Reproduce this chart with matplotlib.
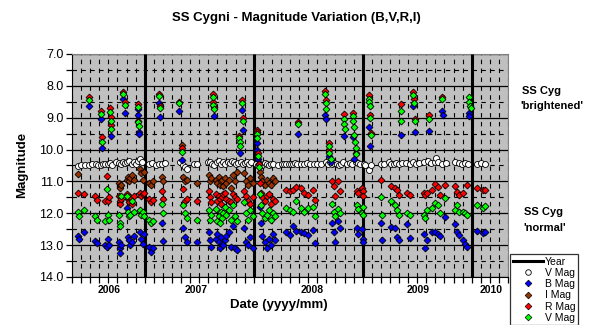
import matplotlib
matplotlib.use("Agg")
import matplotlib.pyplot as plt
from matplotlib.ticker import MultipleLocator, FixedLocator, FormatStrFormatter
from matplotlib.lines import Line2D
import numpy as np

plt.rcParams['font.family'] = ['Liberation Sans', 'DejaVu Sans']

# ---------------- data (decimal year, magnitude) ----------------
b_mag = [
    (2006.390,12.72),(2006.400,12.82),(2006.440,12.60),(2006.486,8.62),(2006.545,12.88),(2006.560,12.92),
    (2006.600,9.05),(2006.610,9.95),(2006.640,13.00),(2006.655,13.05),(2006.665,12.82),(2006.675,13.00),
    (2006.695,9.56),(2006.760,12.90),(2006.770,13.10),(2006.775,13.25),(2006.780,13.00),(2006.805,8.42),
    (2006.815,8.85),(2006.840,11.82),(2006.850,12.75),(2006.860,12.85),(2006.870,13.00),(2006.880,12.90),
    (2006.900,12.70),(2006.935,8.72),(2006.940,8.90),(2006.945,9.45),(2006.950,9.52),(2006.960,12.60),
    (2006.970,12.80),(2006.985,12.95),(2006.995,12.65),
    (2007.040,13.05),(2007.060,13.20),(2007.080,13.10),(2007.128,8.55),(2007.138,8.97),(2007.160,12.30),
    (2007.165,12.88),(2007.317,8.80),(2007.347,10.33),(2007.350,12.45),(2007.370,12.75),(2007.390,12.90),
    (2007.480,12.90),(2007.590,12.60),(2007.600,12.85),(2007.610,13.05),(2007.635,8.95),(2007.650,12.80),
    (2007.660,12.65),(2007.680,12.90),(2007.690,13.10),(2007.700,12.75),(2007.710,12.95),(2007.720,13.00),
    (2007.735,12.85),(2007.750,12.70),(2007.770,12.60),(2007.790,13.05),(2007.810,12.40),(2007.830,13.10),
    (2007.850,13.15),(2007.876,10.10),(2007.893,8.75),(2007.900,9.37),(2007.910,12.45),(2007.930,12.90),
    (2007.950,13.00),(2007.970,12.75),(2007.990,13.10),
    (2008.030,9.80),(2008.035,10.00),(2008.040,10.30),(2008.055,11.80),(2008.065,12.30),(2008.080,12.70),
    (2008.100,12.90),(2008.120,13.10),(2008.140,12.80),(2008.160,13.00),(2008.180,12.65),(2008.200,12.85),
    (2008.300,12.58),(2008.335,12.68),(2008.365,12.40),(2008.385,12.55),(2008.410,9.50),(2008.430,12.60),
    (2008.465,12.63),(2008.500,12.68),(2008.540,12.53),(2008.560,12.93),(2008.655,8.92),(2008.660,9.05),
    (2008.695,10.20),(2008.705,10.40),(2008.720,12.30),(2008.735,12.60),(2008.750,12.90),(2008.770,12.25),
    (2008.790,12.45),(2008.825,9.58),(2008.910,9.60),(2008.925,10.30),(2008.950,12.45),(2008.960,12.65),
    (2008.990,12.50),
    (2009.000,12.80),(2009.005,12.90),(2009.055,9.30),(2009.070,9.90),(2009.170,12.30),(2009.175,12.85),
    (2009.263,12.42),(2009.294,12.45),(2009.315,12.73),(2009.330,12.84),(2009.350,9.55),(2009.405,12.35),
    (2009.435,12.79),(2009.465,8.63),(2009.480,9.45),(2009.560,12.65),(2009.575,13.10),(2009.590,12.85),
    (2009.605,9.42),(2009.640,12.58),(2009.665,12.60),(2009.690,12.65),(2009.710,12.70),(2009.730,8.80),
    (2009.735,8.92),(2009.756,12.13),(2009.850,12.33),(2009.865,12.58),(2009.880,12.68),(2009.925,12.84),
    (2009.940,12.95),(2009.960,13.05),(2009.975,8.85),(2009.980,8.95),(2010.050,12.55),(2010.105,12.62),
    (2010.120,12.60),
]

v_mag = [
    (2006.390,11.95),(2006.400,12.10),(2006.440,11.90),(2006.486,8.45),(2006.545,12.08),(2006.560,12.20),
    (2006.600,8.88),(2006.610,9.75),(2006.640,12.25),(2006.655,11.25),(2006.665,12.05),(2006.675,12.20),
    (2006.685,8.82),(2006.690,9.09),(2006.695,9.35),(2006.760,12.05),(2006.770,12.30),(2006.775,12.40),
    (2006.780,11.45),(2006.805,8.24),(2006.815,8.60),(2006.840,11.45),(2006.850,11.95),(2006.860,12.10),
    (2006.870,12.05),(2006.880,11.60),(2006.900,11.95),(2006.935,8.65),(2006.940,9.15),(2006.945,9.25),
    (2006.960,11.90),(2006.970,12.05),(2006.985,11.95),(2006.995,12.10),
    (2007.040,12.20),(2007.060,12.30),(2007.080,12.25),(2007.128,8.33),(2007.138,8.70),(2007.160,11.70),
    (2007.165,12.00),(2007.317,8.55),(2007.347,10.08),(2007.350,11.75),(2007.370,12.00),(2007.390,12.15),
    (2007.480,12.20),(2007.590,11.90),(2007.600,12.20),(2007.610,12.05),(2007.625,8.35),(2007.630,8.60),
    (2007.635,8.72),(2007.650,11.85),(2007.660,12.25),(2007.680,12.10),(2007.690,12.30),(2007.700,11.95),
    (2007.710,12.15),(2007.720,12.00),(2007.735,11.80),(2007.750,12.05),(2007.770,11.90),(2007.790,12.20),
    (2007.810,11.75),(2007.830,12.10),(2007.850,12.25),(2007.868,9.65),(2007.872,9.75),(2007.876,9.90),
    (2007.893,8.53),(2007.900,9.10),(2007.910,11.65),(2007.930,12.00),(2007.950,12.20),(2007.970,11.90),
    (2007.990,12.10),
    (2008.030,9.50),(2008.035,9.65),(2008.040,10.20),(2008.050,10.55),(2008.055,11.40),(2008.065,11.75),
    (2008.080,12.00),(2008.100,12.15),(2008.120,12.05),(2008.140,11.90),(2008.160,12.20),(2008.180,12.00),
    (2008.200,12.10),(2008.300,11.84),(2008.335,11.90),(2008.365,11.95),(2008.385,11.63),(2008.410,9.21),
    (2008.430,11.84),(2008.465,11.95),(2008.500,11.84),(2008.540,11.79),(2008.560,12.10),(2008.655,8.24),
    (2008.660,8.55),(2008.665,8.74),(2008.690,9.90),(2008.695,10.10),(2008.705,10.30),(2008.720,11.70),
    (2008.735,11.95),(2008.750,12.10),(2008.770,11.85),(2008.790,12.00),(2008.825,9.05),(2008.830,9.20),
    (2008.835,9.35),(2008.910,8.95),(2008.915,9.10),(2008.920,9.30),(2008.925,9.55),(2008.930,9.75),
    (2008.935,9.95),(2008.940,10.15),(2008.950,11.75),(2008.960,11.85),(2008.990,12.00),
    (2009.000,11.80),(2009.005,12.05),(2009.055,8.40),(2009.060,8.50),(2009.065,8.62),(2009.070,9.00),
    (2009.075,9.55),(2009.170,11.50),(2009.175,12.05),(2009.263,11.63),(2009.294,11.74),(2009.315,11.89),
    (2009.330,12.05),(2009.350,8.79),(2009.355,9.11),(2009.405,12.00),(2009.435,12.05),(2009.465,8.28),
    (2009.470,8.55),(2009.480,9.10),(2009.560,12.05),(2009.575,12.15),(2009.590,11.90),(2009.605,9.05),
    (2009.640,11.84),(2009.665,11.68),(2009.690,11.74),(2009.710,12.00),(2009.730,8.40),(2009.756,11.53),
    (2009.850,11.89),(2009.865,11.74),(2009.880,11.95),(2009.925,11.95),(2009.940,12.00),(2009.960,12.05),
    (2009.975,8.35),(2009.980,8.50),(2009.985,8.62),(2009.990,8.70),(2010.050,11.74),(2010.105,11.84),
    (2010.120,11.78),
]

r_mag = [
    (2006.390,11.36),(2006.440,11.38),(2006.486,8.36),(2006.545,11.45),(2006.560,11.58),(2006.600,8.80),
    (2006.610,9.60),(2006.640,11.62),(2006.655,10.82),(2006.665,11.60),(2006.675,11.50),(2006.685,8.71),
    (2006.690,8.98),(2006.695,9.24),(2006.760,11.45),(2006.770,11.60),(2006.775,11.70),(2006.780,11.55),
    (2006.805,8.19),(2006.815,8.50),(2006.840,11.40),(2006.850,11.55),(2006.860,11.65),(2006.870,11.50),
    (2006.880,11.70),(2006.900,11.45),(2006.935,8.57),(2006.940,9.10),(2006.960,11.35),(2006.970,11.45),
    (2006.985,11.40),(2006.995,11.35),
    (2007.040,11.55),(2007.060,11.65),(2007.080,11.58),(2007.128,8.27),(2007.138,8.62),(2007.160,11.30),
    (2007.165,11.55),(2007.317,8.50),(2007.347,9.95),(2007.350,11.25),(2007.370,11.60),(2007.390,11.55),
    (2007.480,11.60),(2007.590,11.30),(2007.600,11.50),(2007.610,11.65),(2007.625,8.27),(2007.630,8.50),
    (2007.635,8.65),(2007.650,11.40),(2007.660,11.60),(2007.680,11.45),(2007.690,11.55),(2007.700,11.70),
    (2007.710,11.50),(2007.720,11.40),(2007.735,11.35),(2007.750,11.55),(2007.770,11.60),(2007.790,11.65),
    (2007.810,11.40),(2007.830,11.50),(2007.850,11.55),(2007.868,9.57),(2007.893,8.45),(2007.900,9.00),
    (2007.910,11.30),(2007.930,11.45),(2007.950,11.60),(2007.970,11.70),(2007.990,11.50),
    (2008.030,9.38),(2008.035,9.45),(2008.040,10.10),(2008.050,10.45),(2008.055,11.05),(2008.065,11.35),
    (2008.080,11.50),(2008.100,11.60),(2008.120,11.45),(2008.140,11.40),(2008.160,11.70),(2008.180,11.55),
    (2008.200,11.60),(2008.300,11.26),(2008.335,11.30),(2008.365,11.26),(2008.385,11.16),(2008.410,9.14),
    (2008.430,11.21),(2008.465,11.37),(2008.500,11.42),(2008.540,11.26),(2008.560,11.58),(2008.655,8.16),
    (2008.660,8.45),(2008.690,9.79),(2008.695,10.00),(2008.720,11.00),(2008.735,11.15),(2008.750,11.45),
    (2008.770,11.00),(2008.790,11.30),(2008.825,8.87),(2008.910,8.84),(2008.935,10.10),(2008.950,11.30),
    (2008.960,11.35),(2008.990,11.20),
    (2009.000,11.30),(2009.005,11.45),(2009.055,8.28),(2009.070,8.93),(2009.075,9.47),(2009.170,10.95),
    (2009.263,11.14),(2009.294,11.21),(2009.315,11.26),(2009.330,11.42),(2009.350,8.56),(2009.405,11.35),
    (2009.435,11.42),(2009.465,8.19),(2009.470,8.42),(2009.480,9.03),(2009.560,11.37),(2009.575,11.42),
    (2009.590,11.37),(2009.605,8.93),(2009.640,11.26),(2009.665,11.07),(2009.690,11.16),(2009.710,11.42),
    (2009.730,8.34),(2009.756,11.10),(2009.850,11.14),(2009.865,11.32),(2009.880,11.42),(2009.925,11.37),
    (2009.960,11.10),(2010.050,11.21),(2010.105,11.26),(2010.120,11.26),
]

i_mag = [
    (2006.390,10.76),(2006.760,11.05),(2006.770,11.15),(2006.775,11.20),(2006.780,11.10),(2006.840,10.95),
    (2006.850,10.85),(2006.860,11.00),(2006.870,10.90),(2006.880,10.80),(2006.900,10.95),(2006.960,10.60),
    (2006.970,10.75),(2006.985,10.95),(2006.995,10.70),(2007.040,11.05),(2007.060,11.10),(2007.080,11.00),
    (2007.160,10.85),(2007.165,11.00),(2007.347,9.85),(2007.350,10.85),(2007.370,11.00),(2007.390,10.95),
    (2007.480,11.05),(2007.590,10.80),(2007.600,11.00),(2007.610,10.90),(2007.650,10.95),(2007.660,11.05),
    (2007.680,10.85),(2007.690,11.10),(2007.700,11.00),(2007.710,10.95),(2007.720,11.15),(2007.735,10.90),
    (2007.750,11.05),(2007.770,10.95),(2007.790,11.20),(2007.810,10.80),(2007.830,11.00),(2007.850,10.70),
    (2007.910,10.75),(2007.930,11.00),(2007.950,11.10),(2007.970,10.90),(2007.990,11.05),(2008.045,10.45),
    (2008.055,10.70),(2008.065,10.85),(2008.080,11.00),(2008.100,11.10),(2008.120,10.95),(2008.140,11.05),
    (2008.160,11.10),(2008.180,10.90),(2008.200,11.00),
]

comp_v_mag = [
    (2006.39,10.52),(2006.42,10.50),(2006.45,10.48),(2006.49,10.47),(2006.52,10.45),(2006.55,10.44),
    (2006.57,10.50),(2006.60,10.48),(2006.62,10.44),(2006.64,10.46),(2006.66,10.45),(2006.68,10.42),
    (2006.70,10.47),(2006.74,10.40),(2006.76,10.42),(2006.78,10.45),(2006.80,10.38),(2006.82,10.42),
    (2006.84,10.38),(2006.86,10.35),(2006.88,10.45),(2006.90,10.40),(2006.92,10.45),(2006.94,10.35),
    (2006.96,10.30),(2006.98,10.38),(2007.04,10.44),(2007.07,10.42),(2007.10,10.47),(2007.13,10.45),
    (2007.16,10.45),(2007.19,10.42),(2007.32,10.40),(2007.35,10.50),(2007.37,10.55),(2007.39,10.60),
    (2007.45,10.45),(2007.48,10.45),(2007.58,10.40),(2007.60,10.38),(2007.62,10.45),(2007.64,10.50),
    (2007.66,10.40),(2007.68,10.36),(2007.70,10.44),(2007.72,10.40),(2007.74,10.45),(2007.76,10.38),
    (2007.78,10.42),(2007.80,10.35),(2007.82,10.40),(2007.84,10.45),(2007.86,10.42),(2007.88,10.38),
    (2007.90,10.45),(2007.92,10.42),(2007.94,10.40),(2007.96,10.45),(2007.98,10.38),(2008.02,10.45),
    (2008.04,10.50),(2008.06,10.45),(2008.08,10.48),(2008.10,10.42),(2008.12,10.45),(2008.14,10.50),
    (2008.16,10.46),(2008.18,10.45),(2008.22,10.48),(2008.26,10.45),(2008.28,10.46),(2008.30,10.45),
    (2008.32,10.46),(2008.34,10.44),(2008.36,10.45),(2008.38,10.42),(2008.40,10.45),(2008.43,10.44),
    (2008.46,10.45),(2008.49,10.43),(2008.52,10.45),(2008.55,10.46),(2008.58,10.45),(2008.62,10.45),
    (2008.66,10.38),(2008.68,10.45),(2008.70,10.40),(2008.72,10.45),(2008.74,10.42),(2008.76,10.45),
    (2008.78,10.50),(2008.80,10.45),(2008.82,10.40),(2008.86,10.45),(2008.88,10.42),(2008.90,10.45),
    (2008.94,10.40),(2008.96,10.42),(2008.98,10.45),(2009.01,10.45),(2009.02,10.48),(2009.06,10.63),
    (2009.08,10.48),(2009.17,10.45),(2009.20,10.46),(2009.24,10.40),(2009.26,10.45),(2009.29,10.45),
    (2009.31,10.43),(2009.33,10.45),(2009.36,10.42),(2009.40,10.43),(2009.43,10.45),(2009.46,10.40),
    (2009.49,10.45),(2009.52,10.42),(2009.56,10.40),(2009.60,10.36),(2009.63,10.42),(2009.66,10.38),
    (2009.67,10.27),(2009.69,10.40),(2009.73,10.45),(2009.76,10.42),(2009.85,10.40),(2009.88,10.43),
    (2009.91,10.45),(2009.94,10.42),(2009.97,10.45),(2010.05,10.45),(2010.09,10.43),(2010.12,10.45),
]

year_lines = [2007, 2008, 2009, 2010]
year_label_pos = [2006.67, 2007.47, 2008.54, 2009.51, 2010.18]
year_labels = ['2006', '2007', '2008', '2009', '2010']

# ---------------- figure ----------------
W, H = 596, 325
fig = plt.figure(figsize=(W / 100, H / 100), dpi=100)
fig.patch.set_facecolor('white')
ax = fig.add_axes([72 / W, 1 - 277 / H, (508 - 72) / W, (277 - 54) / H])
ax.set_facecolor('#C0C0C0')

xmin, xmax = 2006 + 4 / 12, 2010 + 4 / 12
ax.set_xlim(xmin, xmax)
ax.set_ylim(14.0, 7.0)

ax.yaxis.set_major_locator(MultipleLocator(1.0))
ax.yaxis.set_minor_locator(MultipleLocator(0.5))
ax.yaxis.set_major_formatter(FormatStrFormatter('%.1f'))
ax.xaxis.set_major_locator(FixedLocator(year_label_pos))
ax.xaxis.set_major_formatter(plt.FixedFormatter(year_labels))
months = [2006 + 4 / 12 + k / 12 for k in range(49)]
ax.xaxis.set_minor_locator(FixedLocator(months))

ax.grid(which='major', axis='y', color='black', linewidth=0.9, linestyle='-')
ax.grid(which='minor', axis='y', color='black', linewidth=0.8, linestyle=(0, (4, 4)))
ax.grid(which='minor', axis='x', color='black', linewidth=0.8, linestyle=(0, (4, 4)))
ax.set_axisbelow(True)

ax.tick_params(axis='y', which='both', direction='out', length=4, width=0.9, labelsize=9, pad=2)
ax.tick_params(axis='x', which='major', length=0, labelsize=7.5, pad=6)
ax.tick_params(axis='x', which='minor', direction='out', length=4, width=0.9)
for lab in ax.get_xticklabels():
    lab.set_fontweight('bold')

for side in ['top', 'right']:
    ax.spines[side].set_color('#808080')
for side in ['left', 'bottom']:
    ax.spines[side].set_color('black')

ax.vlines(year_lines, 7.0, 14.0, colors='black', linewidth=2.2, zorder=3)

def split(d):
    a = np.array(d, dtype=float)
    return a[:, 0], a[:, 1]

ms = 3.5
x, y = split(comp_v_mag)
ax.plot(x, y, linestyle='none', marker='o', markersize=4.3, markerfacecolor='white',
        markeredgecolor='black', markeredgewidth=0.6, zorder=4)
for data, col in [(b_mag, '#0000FF'), (i_mag, '#993300'), (r_mag, '#FF0000'), (v_mag, '#00FF00')]:
    x, y = split(data)
    ax.plot(x, y, linestyle='none', marker='D', markersize=ms, markerfacecolor=col,
            markeredgecolor='black', markeredgewidth=0.6, zorder=5)

fig.text(296 / W, 1 - 18 / H, 'SS Cygni - Magnitude Variation (B,V,R,I)', ha='center', va='center',
         fontsize=9.5, fontweight='bold')
fig.text(279 / W, 1 - 305 / H, 'Date (yyyy/mm)', ha='center', va='center', fontsize=9.5, fontweight='bold')
fig.text(22 / W, 1 - 165 / H, 'Magnitude', ha='center', va='center', rotation=90, fontsize=9.5,
         fontweight='bold')
fig.text(522 / W, 1 - 91 / H, 'SS Cyg', ha='left', va='center', fontsize=8, fontweight='bold')
fig.text(520 / W, 1 - 106 / H, "'brightened'", ha='left', va='center', fontsize=8, fontweight='bold')
fig.text(524 / W, 1 - 212 / H, 'SS Cyg', ha='left', va='center', fontsize=8, fontweight='bold')
fig.text(523 / W, 1 - 228 / H, "'normal'", ha='left', va='center', fontsize=8, fontweight='bold')

handles = [
    Line2D([], [], color='black', linewidth=2.2),
    Line2D([], [], linestyle='none', marker='o', markersize=4.0, markerfacecolor='white',
           markeredgecolor='black', markeredgewidth=0.6),
    Line2D([], [], linestyle='none', marker='D', markersize=3.4, markerfacecolor='#0000FF',
           markeredgecolor='black', markeredgewidth=0.5),
    Line2D([], [], linestyle='none', marker='D', markersize=3.4, markerfacecolor='#993300',
           markeredgecolor='black', markeredgewidth=0.5),
    Line2D([], [], linestyle='none', marker='D', markersize=3.4, markerfacecolor='#FF0000',
           markeredgecolor='black', markeredgewidth=0.5),
    Line2D([], [], linestyle='none', marker='D', markersize=3.4, markerfacecolor='#00FF00',
           markeredgecolor='black', markeredgewidth=0.5),
]
labels = ['Year', 'V Mag', 'B Mag', 'I Mag', 'R Mag', 'V Mag']
leg = fig.legend(handles, labels, loc='upper left', bbox_to_anchor=(510 / W, 1 - 254 / H),
                 fontsize=7.5, frameon=True, fancybox=False, edgecolor='black',
                 borderpad=0.25, labelspacing=0.12, handlelength=2.9, handletextpad=0.2,
                 borderaxespad=0)
leg.get_frame().set_linewidth(0.9)

fig.savefig('out.png', dpi=100)
